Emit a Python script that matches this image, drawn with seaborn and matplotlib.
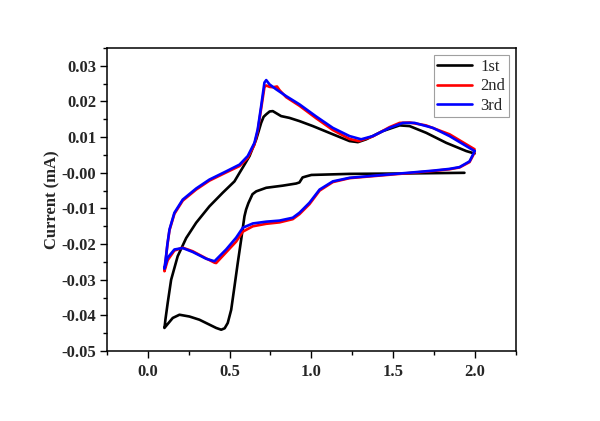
import pandas as pd
import matplotlib
matplotlib.use("Agg")
import matplotlib.pyplot as plt
import seaborn as sns
from matplotlib.ticker import MultipleLocator

# --- data (potential vs current) ---
cycle_names = ["1st", "2nd", "3rd"]
cycle_colors = ["black", "#ff0000", "#0000ff"]

v_1st = [1.935, 1.539, 1.233, 1.000, 0.968, 0.946, 0.927, 0.907, 0.825, 0.724,
         0.663, 0.640, 0.615, 0.601, 0.591, 0.571, 0.550, 0.530, 0.510, 0.489, 0.470, 0.449,
         0.418, 0.316, 0.255, 0.194, 0.153, 0.102,
         0.105, 0.108, 0.122, 0.143, 0.183, 0.235, 0.296, 0.377, 0.458, 0.530, 0.561,
         0.590, 0.622, 0.663, 0.693, 0.708, 0.724, 0.745, 0.764, 0.815, 0.866, 0.927, 1.009, 1.131,
         1.233, 1.284, 1.335, 1.436, 1.539, 1.600, 1.702, 1.824, 1.946, 1.997]
i_1st = [0.0000, -0.0002, -0.0003, -0.0006, -0.0010, -0.0013, -0.0027, -0.0030, -0.0036, -0.0042,
         -0.0052, -0.0060, -0.0085, -0.0103, -0.0122, -0.0187, -0.0253, -0.0319, -0.0384, -0.0421, -0.0436, -0.0440,
         -0.0435, -0.0412, -0.0403, -0.0398, -0.0407, -0.0435,
         -0.0425, -0.0412, -0.0365, -0.0300, -0.0234, -0.0183, -0.0140, -0.0094, -0.0056, -0.0024, 0.0000,
         0.0022, 0.0047, 0.0094, 0.0140, 0.0157, 0.0164, 0.0172, 0.0173, 0.0159, 0.0154, 0.0145, 0.0131, 0.0108,
         0.0089, 0.0086, 0.0094, 0.0117, 0.0133, 0.0131, 0.0112, 0.0084, 0.0061, 0.0054]

v_2nd = [1.997, 1.987, 1.966, 1.905, 1.844, 1.742, 1.641, 1.539, 1.335, 1.233,
         1.131, 1.050, 0.988, 0.927, 0.886, 0.805, 0.724, 0.642, 0.581, 0.540,
         0.479, 0.418, 0.408, 0.357, 0.275, 0.214, 0.163, 0.122, 0.102,
         0.112, 0.120, 0.133, 0.163, 0.214, 0.296, 0.377, 0.479, 0.561, 0.611,
         0.652, 0.672, 0.693, 0.713, 0.724, 0.744, 0.765, 0.790, 0.805, 0.846,
         0.927, 1.029, 1.131, 1.233, 1.290, 1.375, 1.477, 1.539, 1.600, 1.700,
         1.844, 1.946, 1.997]
i_2nd = [0.0058, 0.0048, 0.0030, 0.0015, 0.0010, 0.0005, 0.0001, -0.0003, -0.0011, -0.0015,
         -0.0026, -0.0050, -0.0088, -0.0116, -0.0130, -0.0139, -0.0143, -0.0150, -0.0165, -0.0193,
         -0.0223, -0.0253, -0.0252, -0.0240, -0.0220, -0.0210, -0.0218, -0.0245, -0.0276,
         -0.0236, -0.0203, -0.0161, -0.0115, -0.0078, -0.0047, -0.0022, 0.0001, 0.0019, 0.0042,
         0.0079, 0.0117, 0.0180, 0.0240, 0.0245, 0.0241, 0.0240, 0.0242, 0.0232, 0.0212,
         0.0188, 0.0153, 0.0120, 0.0095, 0.0089, 0.0102, 0.0128, 0.0140, 0.0141, 0.0133,
         0.0108, 0.0080, 0.0066]

v_3rd = [1.997, 1.987, 1.966, 1.905, 1.844, 1.742, 1.641, 1.539, 1.335, 1.233,
         1.131, 1.050, 0.988, 0.927, 0.886, 0.805, 0.724, 0.642, 0.581, 0.540,
         0.479, 0.408, 0.357, 0.275, 0.214, 0.163, 0.122, 0.102,
         0.112, 0.120, 0.133, 0.163, 0.214, 0.296, 0.377, 0.479, 0.561, 0.611,
         0.652, 0.672, 0.693, 0.713, 0.724, 0.744, 0.785, 0.846, 0.927, 1.029,
         1.131, 1.233, 1.304, 1.375, 1.477, 1.559, 1.630, 1.742, 1.844, 1.946, 1.997]
i_3rd = [0.0061, 0.0051, 0.0032, 0.0016, 0.0011, 0.0006, 0.0002, -0.0002, -0.0010, -0.0014,
         -0.0024, -0.0047, -0.0084, -0.0112, -0.0126, -0.0134, -0.0137, -0.0142, -0.0154, -0.0182,
         -0.0215, -0.0248, -0.0241, -0.0222, -0.0211, -0.0215, -0.0238, -0.0269,
         -0.0234, -0.0201, -0.0159, -0.0112, -0.0075, -0.0044, -0.0019, 0.0004, 0.0023, 0.0047,
         0.0084, 0.0122, 0.0187, 0.0253, 0.0260, 0.0248, 0.0234, 0.0215, 0.0192, 0.0158,
         0.0126, 0.0103, 0.0094, 0.0103, 0.0126, 0.0140, 0.0140, 0.0126, 0.0103, 0.0075, 0.0061]

# --- style ---
sns.set_theme(style="ticks")
plt.rcParams["font.family"] = ["Liberation Serif", "DejaVu Serif"]
plt.rcParams["axes.unicode_minus"] = False

fig = plt.figure(figsize=(6.0, 4.21), dpi=100)
ax = fig.add_axes([0.178, 0.166, 0.682, 0.720])

for name, color, v, i in zip(cycle_names, cycle_colors,
                             [v_1st, v_2nd, v_3rd], [i_1st, i_2nd, i_3rd]):
    df = pd.DataFrame({"V": v, "I": i})
    sns.lineplot(data=df, x="V", y="I", sort=False, estimator=None,
                 color=color, linewidth=1.9, label=name, ax=ax,
                 solid_joinstyle="round", solid_capstyle="round")

ax.set_xlim(-0.25, 2.25)
ax.set_ylim(-0.05, 0.035)
ax.xaxis.set_major_locator(MultipleLocator(0.5))
ax.xaxis.set_minor_locator(MultipleLocator(0.25))
ax.yaxis.set_major_locator(MultipleLocator(0.01))
ax.yaxis.set_minor_locator(MultipleLocator(0.005))
ax.xaxis.set_major_formatter(plt.FormatStrFormatter("%.1f"))
ax.yaxis.set_major_formatter(plt.FormatStrFormatter("%.2f"))

ax.tick_params(which="major", direction="out", length=5, width=1.0, pad=2.5,
               labelsize=12, top=False, right=False, color="black")
ax.tick_params(which="minor", direction="out", length=3, width=1.0,
               top=False, right=False, color="black")
ax.tick_params(axis="x", which="major", pad=4)
for lab in ax.get_xticklabels() + ax.get_yticklabels():
    lab.set_fontweight("bold")
for sp in ax.spines.values():
    sp.set_visible(True)
    sp.set_linewidth(1.1)
    sp.set_color("black")

ax.set_xlabel("")
ax.set_ylabel("Current (mA)", fontsize=12, fontweight="bold", labelpad=1)

leg = ax.legend(loc="upper right", fontsize=12, frameon=True, fancybox=False,
                handlelength=2.1, handletextpad=0.5, borderpad=0.2,
                labelspacing=0.22, borderaxespad=0.45)
leg.get_frame().set_edgecolor("#888888")
leg.get_frame().set_linewidth(0.8)
for h in leg.get_lines():
    h.set_linewidth(1.9)

fig.savefig("out.png", dpi=100)
